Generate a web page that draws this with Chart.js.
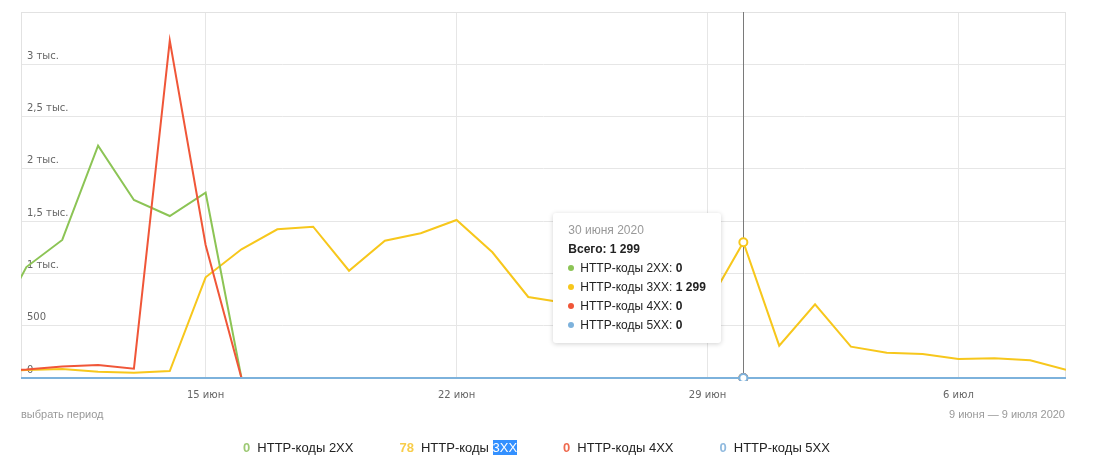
<!DOCTYPE html>
<html>
<head>
<meta charset="utf-8">
<script src="https://cdn.jsdelivr.net/npm/chart.js@4.4.0/dist/chart.umd.min.js"></script>
<style>
html,body{margin:0;padding:0;background:#fff;}
#wrap{position:relative;width:1093px;height:472px;overflow:hidden;font-family:Arial,"Liberation Sans",sans-serif;}
#c{position:absolute;left:0;top:0;}
.period{position:absolute;left:21px;top:408px;font-size:11px;line-height:13px;color:#999;white-space:nowrap;}
.range{position:absolute;right:28px;top:408px;font-size:11px;line-height:13px;color:#999;white-space:nowrap;}
#legend{position:absolute;left:0;width:1073px;top:439px;display:flex;justify-content:center;gap:46px;font-size:13px;line-height:17px;color:#222;white-space:nowrap;}
#legend .num{font-weight:bold;margin-right:7px;}
#legend .sel{background:#3390ff;color:#fff;}
#tip{position:absolute;display:none;background:#fff;border-radius:3px;box-shadow:0 1px 5px rgba(0,0,0,0.18);padding:8px 15px;font-size:12px;line-height:19px;color:#222;white-space:nowrap;}
#tip .t{color:#999;}
#tip .tot{font-weight:bold;}
#tip .dot{display:inline-block;width:6px;height:6px;border-radius:50%;margin-right:6px;vertical-align:1px;}
#tip b{font-weight:bold;}
</style>
</head>
<body>
<div id="wrap">
  <canvas id="c" width="1093" height="472"></canvas>
  <div class="period">выбрать период</div>
  <div class="range">9 июня — 9 июля 2020</div>
  <div id="legend"></div>
  <div id="tip"></div>
</div>
<script>
// ---- data ----
const days = ['9 июня','10 июня','11 июня','12 июня','13 июня','14 июня','15 июня','16 июня','17 июня','18 июня',
  '19 июня','20 июня','21 июня','22 июня','23 июня','24 июня','25 июня','26 июня','27 июня','28 июня',
  '29 июня','30 июня','1 июля','2 июля','3 июля','4 июля','5 июля','6 июля','7 июля','8 июля','9 июля'];
const year = '2020';
const seriesNames = ['HTTP-коды 2XX','HTTP-коды 3XX','HTTP-коды 4XX','HTTP-коды 5XX'];
const codes2xx = [420,1061,1320,2221,1702,1549,1772,0,0,0,0,0,0,0,0,0,0,0,0,0,0,0,0,0,0,0,0,0,0,0,0];
const codes3xx = [60,76,86,60,51,67,963,1231,1422,1447,1026,1313,1384,1511,1202,775,720,690,660,640,700,1299,309,705,300,242,230,182,188,169,78];
const codes4xx = [67,81,110,124,89,3226,1272,0,0,0,0,0,0,0,0,0,0,0,0,0,0,0,0,0,0,0,0,0,0,0,0];
const codes5xx = [0,0,0,0,0,0,0,0,0,0,0,0,0,0,0,0,0,0,0,0,0,0,0,0,0,0,0,0,0,0,0];
const xTickDays = ['15 июня','22 июня','29 июня','6 июля'];
const xTickLabels = ['15 июн','22 июн','29 июн','6 июл'];
const yTickValues = [0,500,1000,1500,2000,2500,3000];
const yTickLabels = ['0','500','1 тыс.','1,5 тыс.','2 тыс.','2,5 тыс.','3 тыс.'];
const hoverDay = '30 июня';

// ---- styles ----
const colors = ['#8cc455','#f7c71c','#f05638','#7db2dc'];
const legendNumColors = ['#9dc974','#f8cd4a','#ef6a4f','#8fb9de'];
const drawOrder = [2,3,1,0];

const fmt = n => String(n).replace(/\B(?=(\d{3})+(?!\d))/g, '\u00a0');
const allSeries = [codes2xx, codes3xx, codes4xx, codes5xx];

const datasets = allSeries.map((arr, k) => ({
  label: seriesNames[k],
  data: arr.map((v, i) => ({x: i, y: v})),
  borderColor: colors[k],
  backgroundColor: colors[k],
  borderWidth: 2,
  pointRadius: 0,
  pointHoverRadius: 4,
  pointHoverBorderWidth: 2,
  pointHoverBackgroundColor: '#fff',
  pointHoverBorderColor: colors[k],
  tension: 0,
  fill: false,
  order: drawOrder[k],
  clip: {left: 0, right: 0, top: 2, bottom: 3}
}));

const frame = {
  id: 'frame',
  beforeDatasetsDraw(chart) {
    const {ctx, chartArea: a} = chart;
    ctx.save();
    ctx.strokeStyle = '#e2e2e2';
    ctx.lineWidth = 1;
    ctx.strokeRect(Math.round(a.left) + 0.5, Math.round(a.top) + 0.5, Math.round(a.right - a.left) - 1, Math.round(a.bottom - a.top));
    const act = chart.getActiveElements();
    if (act.length) {
      const x = Math.round(act[0].element.x) + 0.5;
      ctx.strokeStyle = '#7a7a7a';
      ctx.beginPath();
      ctx.moveTo(x, a.top);
      ctx.lineTo(x, a.bottom);
      ctx.stroke();
    }
    ctx.restore();
  }
};

const tickFont = {family: '"DejaVu Sans", Verdana, sans-serif', size: 10};

const chart = new Chart(document.getElementById('c'), {
  type: 'line',
  data: {datasets},
  options: {
    responsive: false,
    animation: false,
    devicePixelRatio: 1,
    events: [],
    layout: {padding: {left: 9, top: 12, right: 27, bottom: 60}},
    interaction: {mode: 'index', intersect: false},
    scales: {
      x: {
        type: 'linear',
        min: 0.85,
        max: days.length - 1,
        afterBuildTicks: ax => { ax.ticks = xTickDays.map(d => ({value: days.indexOf(d)})); },
        ticks: {
          callback: v => xTickLabels[xTickDays.indexOf(days[v])],
          color: '#666', font: tickFont, padding: 11, maxRotation: 0, autoSkip: false
        },
        grid: {color: '#e6e6e6', drawTicks: false},
        border: {display: false}
      },
      y: {
        min: 0,
        max: 3500,
        afterBuildTicks: ax => { ax.ticks = yTickValues.map(v => ({value: v})); },
        ticks: {
          mirror: true, padding: 6, labelOffset: -8,
          callback: v => yTickLabels[yTickValues.indexOf(v)],
          color: '#666', font: tickFont
        },
        grid: {color: '#e6e6e6', drawTicks: false},
        border: {display: false}
      }
    },
    plugins: {
      legend: {display: false},
      tooltip: {
        enabled: false,
        mode: 'index',
        intersect: false,
        external: ({tooltip}) => {
          const el = document.getElementById('tip');
          if (tooltip.opacity === 0 || !tooltip.dataPoints || !tooltip.dataPoints.length) { el.style.display = 'none'; return; }
          const dps = tooltip.dataPoints.slice().sort((a, b) => a.datasetIndex - b.datasetIndex);
          const idx = dps[0].dataIndex;
          const total = dps.reduce((s, d) => s + d.parsed.y, 0);
          let html = '<div class="t">' + days[idx] + ' ' + year + '</div>';
          html += '<div class="tot">Всего: ' + fmt(total) + '</div>';
          dps.forEach(d => {
            html += '<div><span class="dot" style="background:' + colors[d.datasetIndex] + '"></span>' +
              seriesNames[d.datasetIndex] + ': <b>' + fmt(d.parsed.y) + '</b></div>';
          });
          el.innerHTML = html;
          el.style.display = 'block';
          const x = dps[0].element.x;
          const yTop = Math.min(...dps.map(d => d.element.y));
          el.style.left = (x - 23 - el.offsetWidth) + 'px';
          el.style.top = (yTop - 29) + 'px';
        }
      }
    }
  },
  plugins: [frame]
});

// legend
const lg = document.getElementById('legend');
allSeries.forEach((arr, k) => {
  const item = document.createElement('span');
  const num = document.createElement('span');
  num.className = 'num';
  num.style.color = legendNumColors[k];
  num.textContent = fmt(arr[arr.length - 1]);
  item.appendChild(num);
  const name = seriesNames[k];
  if (k === 1) {
    const cut = name.lastIndexOf(' ') + 1;
    item.appendChild(document.createTextNode(name.slice(0, cut)));
    const sel = document.createElement('span');
    sel.className = 'sel';
    sel.textContent = name.slice(cut);
    item.appendChild(sel);
  } else {
    item.appendChild(document.createTextNode(name));
  }
  lg.appendChild(item);
});

// hover state at the highlighted day
const hi = days.indexOf(hoverDay);
const active = datasets.map((d, k) => ({datasetIndex: k, index: hi}));
chart.setActiveElements(active);
chart.tooltip.setActiveElements(active, {x: 0, y: 0});
chart.render();
</script>
</body>
</html>
